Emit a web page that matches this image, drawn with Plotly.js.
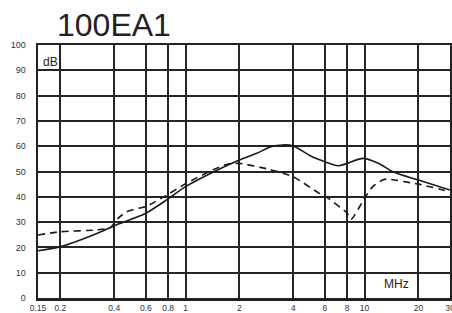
<!DOCTYPE html>
<html>
<head>
<meta charset="utf-8">
<script src="https://cdn.plot.ly/plotly-3.0.1.min.js"></script>
<style>html,body{margin:0;padding:0;background:#fff;}#chart{width:452px;height:313px;}</style>
</head>
<body>
<div id="chart"></div>
<script>
// Frequency axis ticks (MHz)
const tickValues = [0.15, 0.2, 0.4, 0.6, 0.8, 1, 2, 4, 6, 8, 10, 20, 30];
const tickLabels = ["0.15", "0.2", "0.4", "0.6", "0.8", "1", "2", "4", "6", "8", "10", "20", "30"];

// Solid curve
const solidFreq = [0.15, 0.2, 0.32, 0.4, 0.6, 0.8, 1, 1.5, 2, 2.5, 3, 3.5, 4, 5, 6, 7.1, 8, 9.8, 12, 14.4, 20, 30];
const solidDb   = [18.7, 20.3, 25.5, 28.6, 33.5, 39.2, 44, 50.5, 54.5, 57.2, 59.8, 60.5, 60.1, 56.1, 53.9, 52.3, 53.2, 55.2, 53.2, 49.9, 46.6, 42.7];

// Dashed curve
const dashFreq = [0.15, 0.2, 0.32, 0.38, 0.42, 0.47, 0.55, 0.6, 0.8, 1, 1.45, 1.7, 2, 2.95, 4, 5.6, 6, 8, 8.4, 10, 11.1, 12.6, 13.2, 20, 30];
const dashDb   = [24.9, 26.2, 26.9, 27.8, 31.5, 34.1, 35.5, 36.1, 41, 45.2, 50.9, 52.8, 53.2, 50.8, 47.9, 41.3, 40.3, 33.5, 31.1, 39.4, 44, 46.6, 47, 45, 42];

const lineColor = "#1a1a1a";
const traces = [
  {x: solidFreq, y: solidDb, type: "scatter", mode: "lines",
   line: {color: lineColor, width: 1.6, shape: "spline", smoothing: 0.8}, showlegend: false, hoverinfo: "skip"},
  {x: dashFreq, y: dashDb, type: "scatter", mode: "lines",
   line: {color: lineColor, width: 1.6, shape: "spline", smoothing: 0.6, dash: "7px,5px"}, showlegend: false, hoverinfo: "skip"}
];

const font = "Liberation Sans, Arial, sans-serif";
const layout = {
  width: 452, height: 313,
  margin: {l: 38, r: 2, t: 45, b: 15},
  paper_bgcolor: "#fff", plot_bgcolor: "#fff",
  title: {text: "100EA1", font: {family: font, size: 32, color: "#222"},
          x: 57/452, xanchor: "left", xref: "container", y: 1 - 25/313, yref: "container", yanchor: "middle"},
  xaxis: {type: "log", range: [Math.log10(0.15), Math.log10(30)],
          tickmode: "array", tickvals: tickValues, ticktext: tickLabels,
          showgrid: true, gridcolor: "#262626", gridwidth: 2,
          showline: true, linecolor: "#222", linewidth: 2.5, mirror: true,
          ticks: "", ticklabelstandoff: 0, ticklabeloverflow: "allow",
          tickfont: {family: font, size: 8.5, color: "#333"}, zeroline: false},
  yaxis: {range: [0, 100], tickmode: "linear", tick0: 0, dtick: 10,
          showgrid: true, gridcolor: "#262626", gridwidth: 2,
          showline: true, linecolor: "#222", linewidth: 2.5, mirror: true,
          ticks: "", ticklabelstandoff: 8,
          tickfont: {family: font, size: 9, color: "#333"}, zeroline: false},
  annotations: [
    {text: "dB", xref: "paper", yref: "paper", x: 3/412, y: 1 - 17/253, xanchor: "left", yanchor: "middle",
     showarrow: false, font: {family: font, size: 12, color: "#222"}},
    {text: "MHz", xref: "paper", yref: "paper", x: (396-38)/412, y: (298-284)/253, xanchor: "center", yanchor: "middle",
     showarrow: false, font: {family: font, size: 12, color: "#222"}}
  ]
};

Plotly.newPlot("chart", traces, layout, {staticPlot: true, displayModeBar: false});
</script>
</body>
</html>
